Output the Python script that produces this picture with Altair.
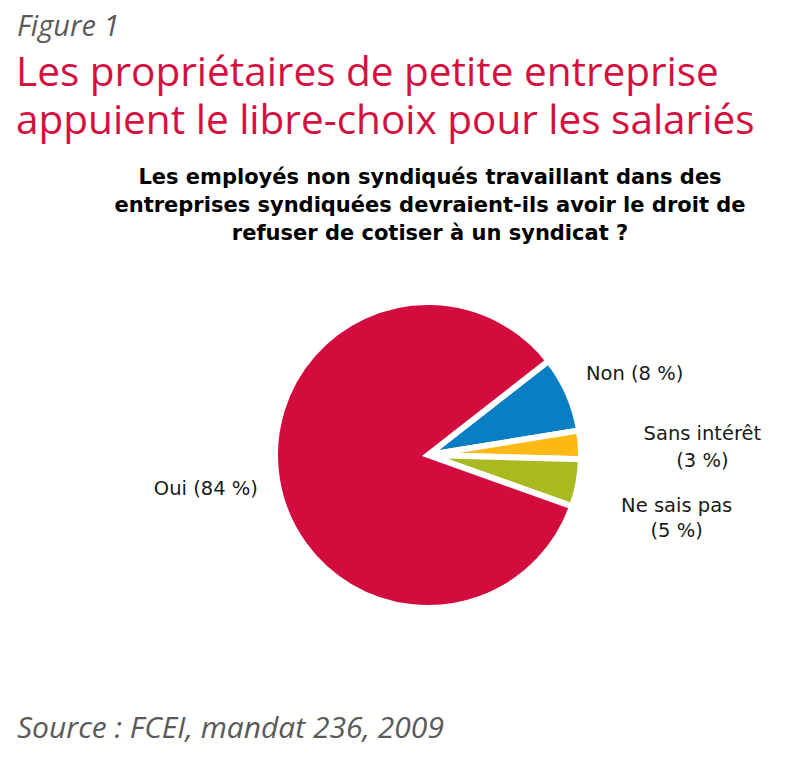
import math
import altair as alt
import pandas as pd

# Survey answers (share of respondents, %)
categories = ["Non", "Sans intérêt", "Ne sais pas", "Oui"]
values = [8, 3, 5, 84]
colors = ["#0A7EC2", "#FDB913", "#A9B920", "#D20C3C"]

title_lines = [
    "Les propriétaires de petite entreprise",
    "appuient le libre-choix pour les salariés",
]
question_lines = [
    "Les employés non syndiqués travaillant dans des",
    "entreprises syndiquées devraient-ils avoir le droit de",
    "refuser de cotiser à un syndicat ?",
]
figure_label = "Figure 1"
source_note = "Source : FCEI, mandat 236, 2009"

# labels: small answers break onto two lines
label_breaks = [" ", "\n", "\n", " "]
labels = [f"{c}{b}({v} %)" for c, b, v in zip(categories, label_breaks, values)]

df = pd.DataFrame({
    "category": categories,
    "value": values,
    "order": list(range(len(categories))),
    "label": labels,
})

W, H = 786, 768
CX, CY = 428, 455
start = math.radians(52)
total = sum(values)

theta_scale = alt.Scale(domain=[0, total], range=[start, start + 2 * math.pi])

base = alt.Chart(df).transform_window(
    cum_end="sum(value)", sort=[alt.SortField("order")], frame=[None, 0]
).transform_calculate(
    cum_start="datum.cum_end - datum.value",
    mid="datum.cum_end - datum.value / 2",
)

pie = base.mark_arc(outerRadius=153, stroke="white", strokeWidth=6).encode(
    theta=alt.Theta("cum_start:Q", scale=theta_scale),
    theta2="cum_end:Q",
    color=alt.Color("category:N", scale=alt.Scale(domain=categories, range=colors), legend=None),
    x=alt.value(CX),
    y=alt.value(CY),
)

label_font = dict(font="DejaVu Sans", fontSize=19.5, color="#1a1a1a",
                  align="center", baseline="alphabetic", lineBreak="\n")
label_place = {
    "Non": dict(radius=220, dx=5, dy=13, lineHeight=26),
    "Sans intérêt": dict(radius=274, dx=1, dy=3, lineHeight=27),
    "Ne sais pas": dict(radius=253, dx=0, dy=10, lineHeight=25),
    "Oui": dict(radius=225, dx=0, dy=4, lineHeight=26),
}

label_layers = []
for cat in categories:
    lp = label_place[cat]
    label_layers.append(
        base.transform_filter(alt.datum.category == cat)
        .mark_text(**label_font, **lp)
        .encode(
            theta=alt.Theta("mid:Q", scale=theta_scale),
            text="label:N",
            x=alt.value(CX),
            y=alt.value(CY),
        )
    )


def text_block(txt, x, y, **kw):
    return alt.Chart(pd.DataFrame({"t": [txt]})).mark_text(
        lineBreak="\n", **kw
    ).encode(text="t:N", x=alt.value(x), y=alt.value(y))


grey = "#5a5a5a"
red = "#D4103F"
annotations = [
    text_block(figure_label, 17, 36, font="Open Sans", fontStyle="italic",
               fontSize=29, color=grey, align="left", baseline="alphabetic"),
    text_block("\n".join(title_lines), 16, 86, font="Open Sans",
               fontSize=40.5, lineHeight=48, color=red, align="left",
               baseline="alphabetic"),
    text_block("\n".join(question_lines), 430, 184, font="DejaVu Sans",
               fontWeight="bold", fontSize=21, lineHeight=28, color="#000000",
               align="center", baseline="alphabetic"),
    text_block(source_note, 17, 738, font="Open Sans", fontStyle="italic",
               fontSize=30, color=grey, align="left", baseline="alphabetic"),
]

chart = alt.layer(pie, *label_layers, *annotations).properties(
    width=W, height=H, padding=0,
    autosize=alt.AutoSizeParams(type="none"),
    background="white",
).configure_view(stroke=None)

chart.save("out.html", embed_options={"renderer": "svg", "actions": False})
